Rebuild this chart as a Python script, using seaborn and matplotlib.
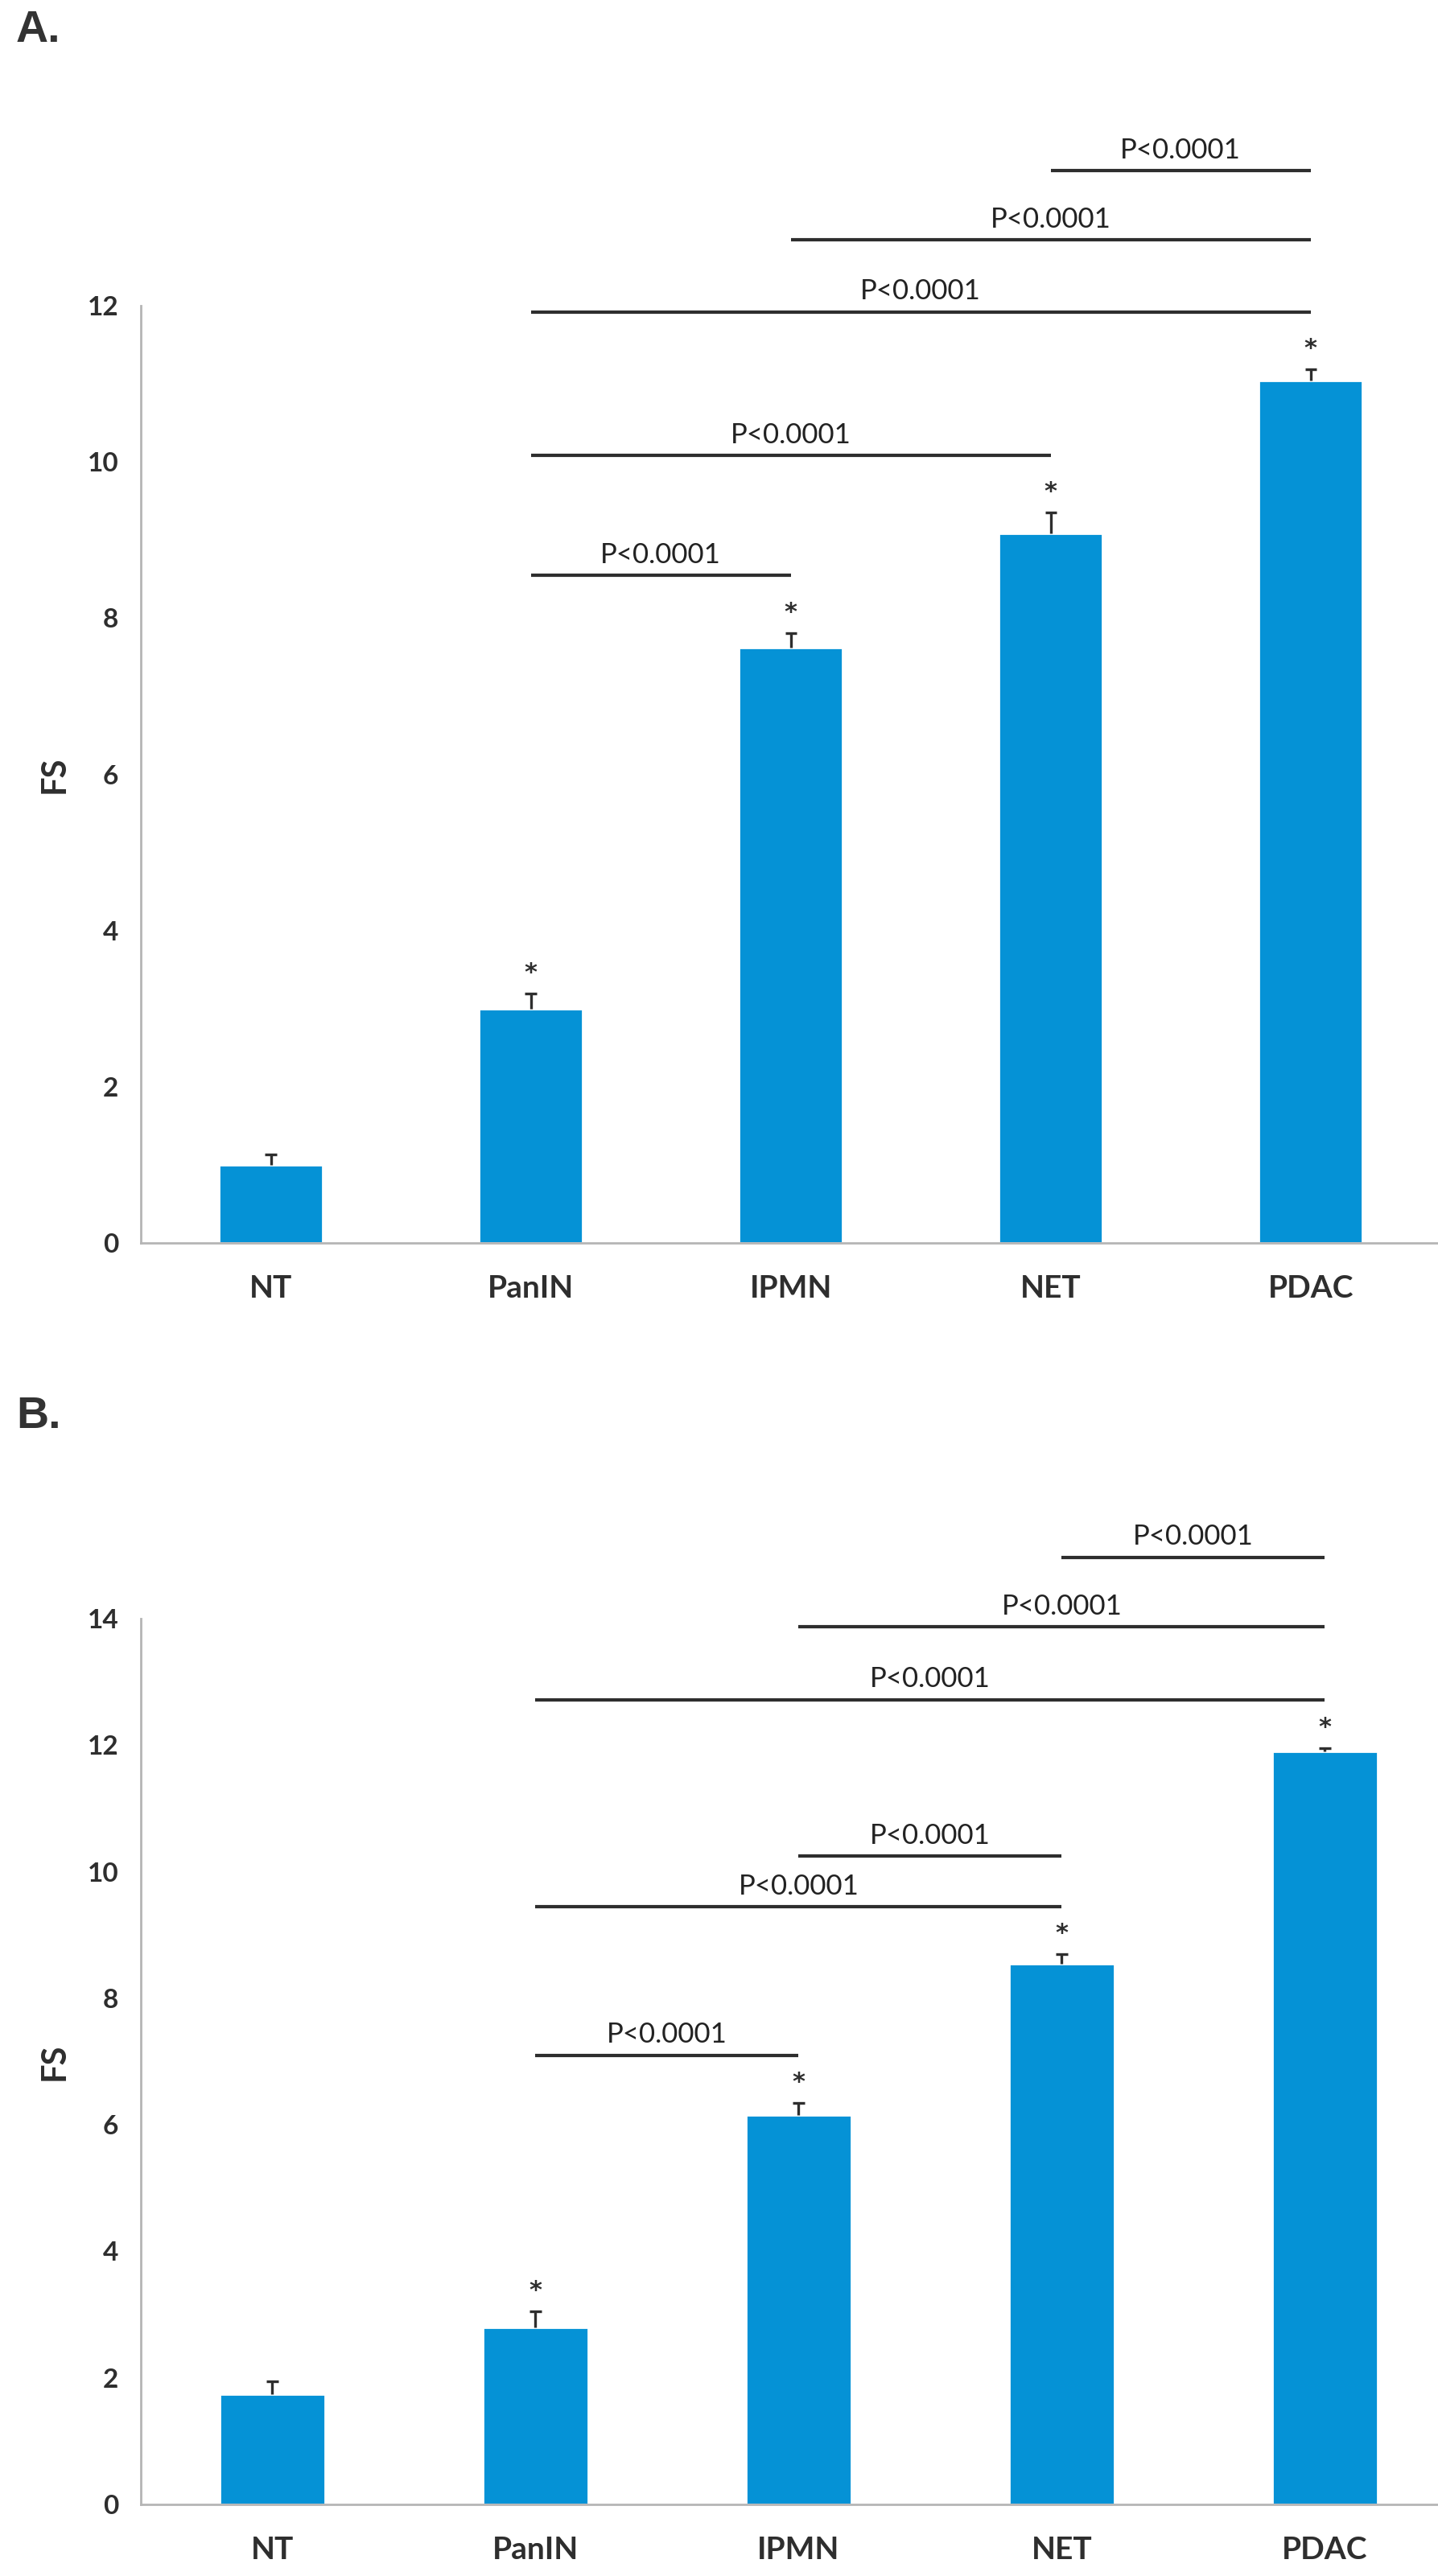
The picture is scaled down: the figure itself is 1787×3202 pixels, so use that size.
import numpy as np
import pandas as pd
import seaborn as sns
import matplotlib.pyplot as plt

# data
groups = ["NT", "PanIN", "IPMN", "NET", "PDAC"]

fs_a = [1.0, 3.0, 7.62, 9.09, 11.04]
err_a = [0.13, 0.19, 0.19, 0.26, 0.15]
star_a = [False, True, True, True, True]
# brackets: (from group, to group, height)
br_a_from = [1, 1, 1, 2, 3]
br_a_to = [2, 3, 4, 4, 4]
br_a_y = [8.55, 10.08, 11.92, 12.84, 13.73]

fs_b = [1.74, 2.8, 6.15, 8.55, 11.9]
err_b = [0.2, 0.25, 0.2, 0.15, 0.05]
star_b = [False, True, True, True, True]
br_b_from = [1, 1, 2, 1, 2, 3]
br_b_to = [2, 3, 3, 4, 4, 4]
br_b_y = [7.1, 9.45, 10.25, 12.72, 13.87, 14.97]

p_label = "P<0.0001"

BLUE = "#0592d6"
DARK = "#2e2e2e"

sns.set_style("white")
plt.rcParams['font.family'] = ['Lato', 'DejaVu Sans']

W, H = 1787, 3202
fig = plt.figure(figsize=(W / 200, H / 200), dpi=200)


def draw_panel(rect, vals, errs, stars, bfrom, bto, by, ymax, xmax, letter, letter_y):
    ax = fig.add_axes(rect)
    df = pd.DataFrame({"group": groups, "FS": vals})
    sns.barplot(data=df, x="group", y="FS", color=BLUE, width=0.4,
                errorbar=None, saturation=1, ax=ax)
    # upper error bars only
    xs = np.arange(len(vals))
    tops = np.array(vals) + np.array(errs)
    ax.vlines(xs, vals, tops, color=DARK, lw=1.2)
    ax.hlines(tops, xs - 0.022, xs + 0.022, color=DARK, lw=1.2)
    for i, v in enumerate(vals):
        if stars[i]:
            ax.annotate("*", (i, tops[i]), xytext=(0, 4), textcoords="offset points",
                        ha="center", va="bottom", fontsize=11, fontweight="bold",
                        color=DARK, family="DejaVu Sans")
    for a, b, y in zip(bfrom, bto, by):
        ax.plot([a, b], [y, y], color=DARK, lw=1.5, clip_on=False, solid_capstyle="butt")
        ax.annotate(p_label, ((a + b) / 2, y), xytext=(0, 5.5), textcoords="offset points",
                    ha="center", va="baseline", fontsize=12.5, color="#222222",
                    annotation_clip=False)
    ax.set_ylim(0, ymax)
    ax.set_xlim(-0.5, xmax)
    ax.set_yticks(np.arange(0, ymax + 1, 2))
    ax.tick_params(axis="both", length=0, labelsize=12, labelcolor=DARK, pad=10)
    ax.tick_params(axis="x", labelsize=14, pad=14)
    for lab in ax.get_xticklabels() + ax.get_yticklabels():
        lab.set_fontweight("bold")
    ax.set_xlabel("")
    ax.set_ylabel("FS", fontsize=15, fontweight="bold", color=DARK, labelpad=8)
    for s in ["top", "right"]:
        ax.spines[s].set_visible(False)
    for s in ["left", "bottom"]:
        ax.spines[s].set_color("#b5b5b5")
        ax.spines[s].set_linewidth(1.0)
    fig.text(20 / W, 1 - letter_y / H, letter, fontsize=20, fontweight="bold",
             color="#333333", family=["Liberation Sans", "DejaVu Sans"], va="top")
    return ax


draw_panel([175 / W, 1 - 1545 / H, (W - 175) / W, (1545 - 380) / H],
           fs_a, err_a, star_a, br_a_from, br_a_to, br_a_y, 12, 4.49, "A.", 12)
draw_panel([175 / W, 1 - 3113 / H, (W - 175) / W, (3113 - 2012) / H],
           fs_b, err_b, star_b, br_b_from, br_b_to, br_b_y, 14, 4.43, "B.", 1735)

fig.savefig("out.png", dpi=200, facecolor="white")
